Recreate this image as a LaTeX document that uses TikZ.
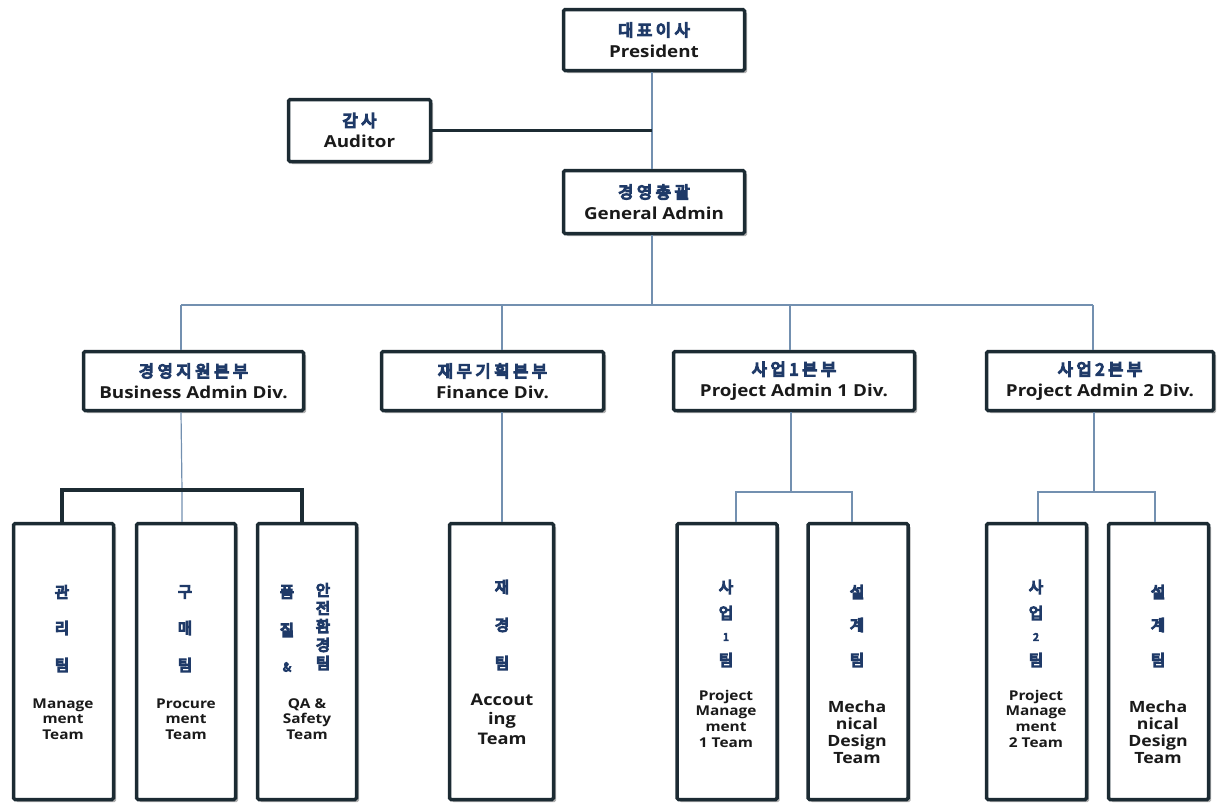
\documentclass[tikz,border=0pt]{standalone}
\usepackage{fontspec}
\setmainfont{Open Sans}[FakeStretch=1.14]
\newfontfamily\kr{Noto Sans CJK KR}[FakeBold=8]
\newfontfamily\krs{Noto Sans CJK KR}[FakeBold=8, LetterSpace=22]
\usetikzlibrary{shadows}
\definecolor{boxc}{HTML}{1C2B33}
\definecolor{krc}{HTML}{1F3A68}
\definecolor{enc}{HTML}{1A1A1A}
\definecolor{linec}{HTML}{7390B0}
\begin{document}
\begin{tikzpicture}[x=1pt,y=-1pt,
  box/.style={draw=boxc, line width=3.5pt, fill=white, rounded corners=1.5pt,
    drop shadow={shadow xshift=2.5pt, shadow yshift=-2.5pt, fill=black, opacity=0.3},
    inner sep=0pt, align=center},
  thin/.style={draw=linec, line width=1.2pt},
  thick/.style={draw=boxc, line width=3.5pt},
  kt/.style={font=\kr\fontsize{15.5}{15.5}\selectfont, text=krc, inner sep=0pt},
  kn/.style={font=\kr\fontsize{10.5}{10.5}\selectfont, text=krc, inner sep=0pt},
  et/.style={font=\bfseries\fontsize{13.5}{15.7}\selectfont, text=enc, align=center, inner sep=0pt},
  ttl/.style={box, font=\bfseries\fontsize{16.5}{21}\selectfont, text=enc},
  team/.style={box, minimum width=100pt, minimum height=276pt}
]
\useasboundingbox (0,0) rectangle (1220,804);
\newcommand{\kor}[1]{{\krs\mdseries\fontsize{16.5}{16.5}\selectfont\color{krc}#1}}

\coordinate (busL) at (181,305);
\coordinate (busR) at (1093,305);
\coordinate (mainbus) at (652,305);

% top level boxes
\node[ttl, minimum width=181pt, minimum height=61pt] (pres) at (654,40) {\kor{대표이사}\\President};
\node[ttl, minimum width=142pt, minimum height=62pt] (aud) at (359.5,130.5) {\kor{감사}\\Auditor};
\node[ttl, minimum width=181pt, minimum height=63pt] (ga) at (654,202) {\kor{경영총괄}\\General Admin};

\node[ttl, minimum width=220pt, minimum height=59pt] (bad) at (193.5,381) {\kor{경영지원본부}\\Business Admin Div.};
\node[ttl, minimum width=222pt, minimum height=59pt] (fin) at (492.5,381) {\kor{재무기획본부}\\Finance Div.};
\node[ttl, minimum width=241pt, minimum height=59pt] (pa1) at (794,381) {\kor{사업1본부}\\Project Admin 1 Div.};
\node[ttl, minimum width=227pt, minimum height=59pt] (pa2) at (1100,381) {\kor{사업2본부}\\Project Admin 2 Div.};

% team boxes
\node[team, minimum width=100pt] (t1) at (63.5,661.5) {};
\node[team, minimum width=99pt] (t2) at (186,661.5) {};
\node[team, minimum width=99pt] (t3) at (307,661.5) {};
\node[team, minimum width=104pt] (t4) at (501.5,661.5) {};
\node[team, minimum width=100pt] (t5) at (727,661.5) {};
\node[team, minimum width=100pt] (t6) at (858,661.5) {};
\node[team, minimum width=100pt] (t7) at (1036.5,661.5) {};
\node[team, minimum width=100pt] (t8) at (1158.5,661.5) {};

% connectors
\draw[thin] (652,0 |- pres.south) -- (652,0 |- ga.north);
\draw[thin] (652,0 |- ga.south) -- (mainbus);
\draw[thick] (aud.east) -- (652,0 |- aud.east);
\draw[thin] (busL) -- (busR);
\draw[thin] (busL) -- (181,0 |- bad.north);
\draw[thin] (502,305) -- (502,0 |- fin.north);
\draw[thin] (790,305) -- (790,0 |- pa1.north);
\draw[thin] (busR) -- (1093,0 |- pa2.north);

\coordinate (bb) at (182,490);
\draw[thin] (181,0 |- bad.south) -- (bb) -- (182,0 |- t2.north);
\draw[thick] (62,0 |- t1.north) -- (62,490) -- (302,490) -- (302,0 |- t3.north);
\draw[thin] (502,0 |- fin.south) -- (502,0 |- t4.north);

\coordinate (p1b) at (791,492);
\draw[thin] (791,0 |- pa1.south) -- (p1b);
\draw[thin] (736,0 |- t5.north) -- (736,492) -- (852,492) -- (852,0 |- t6.north);
\coordinate (p2b) at (1094,492);
\draw[thin] (1094,0 |- pa2.south) -- (p2b);
\draw[thin] (1038,0 |- t7.north) -- (1038,492) -- (1155,492) -- (1155,0 |- t8.north);

% team texts
\foreach \c/\y [count=\i] in {관/592,리/628,팀/665} \node[kt] (ta\i) at (62,\y) {\c};
\node[et] (tae) at (63,719) {Manage\\ment\\Team};

\foreach \c/\y [count=\i] in {구/592,매/628,팀/665} \node[kt] (tb\i) at (185,\y) {\c};
\node[et] (tbe) at (186,719) {Procure\\ment\\Team};

\foreach \c/\y [count=\i] in {품/592,질/630} \node[kt] (tcl\i) at (287,\y) {\c};
\node[kn, font=\kr\fontsize{12}{12}\selectfont] (tcamp) at (287,667) {\&};
\foreach \c/\y [count=\i] in {안/590,전/608,환/626,경/645,팀/663} \node[kt] (tcr\i) at (323,\y) {\c};
\node[et] (tce) at (307,719) {QA \&\\Safety\\Team};

\foreach \c/\y [count=\i] in {재/587,경/625,팀/663} \node[kt] (td\i) at (502,\y) {\c};
\node[et, font=\bfseries\fontsize{16}{19.5}\selectfont] (tde) at (502,719) {Accout\\ing\\Team};

\node[kt] (te1) at (726,587) {사};
\node[kt] (te2) at (726,613) {업};
\node[kn] (te3) at (726,637) {1};
\node[kt] (te4) at (726,660) {팀};
\node[et] (tee) at (726,718.5) {Project\\Manage\\ment\\1 Team};

\foreach \c/\y [count=\i] in {설/592,계/625,팀/660} \node[kt] (tf\i) at (857,\y) {\c};
\node[et, font=\bfseries\fontsize{15.5}{17}\selectfont] (tfe) at (857,732) {Mecha\\nical\\Design\\Team};

\node[kt] (tg1) at (1036,587) {사};
\node[kt] (tg2) at (1036,613) {업};
\node[kn] (tg3) at (1036,637) {2};
\node[kt] (tg4) at (1036,660) {팀};
\node[et] (tge) at (1036,718.5) {Project\\Manage\\ment\\2 Team};

\foreach \c/\y [count=\i] in {설/592,계/625,팀/660} \node[kt] (th\i) at (1158,\y) {\c};
\node[et, font=\bfseries\fontsize{15.5}{17}\selectfont] (the) at (1158,732) {Mecha\\nical\\Design\\Team};
\end{tikzpicture}
\end{document}
